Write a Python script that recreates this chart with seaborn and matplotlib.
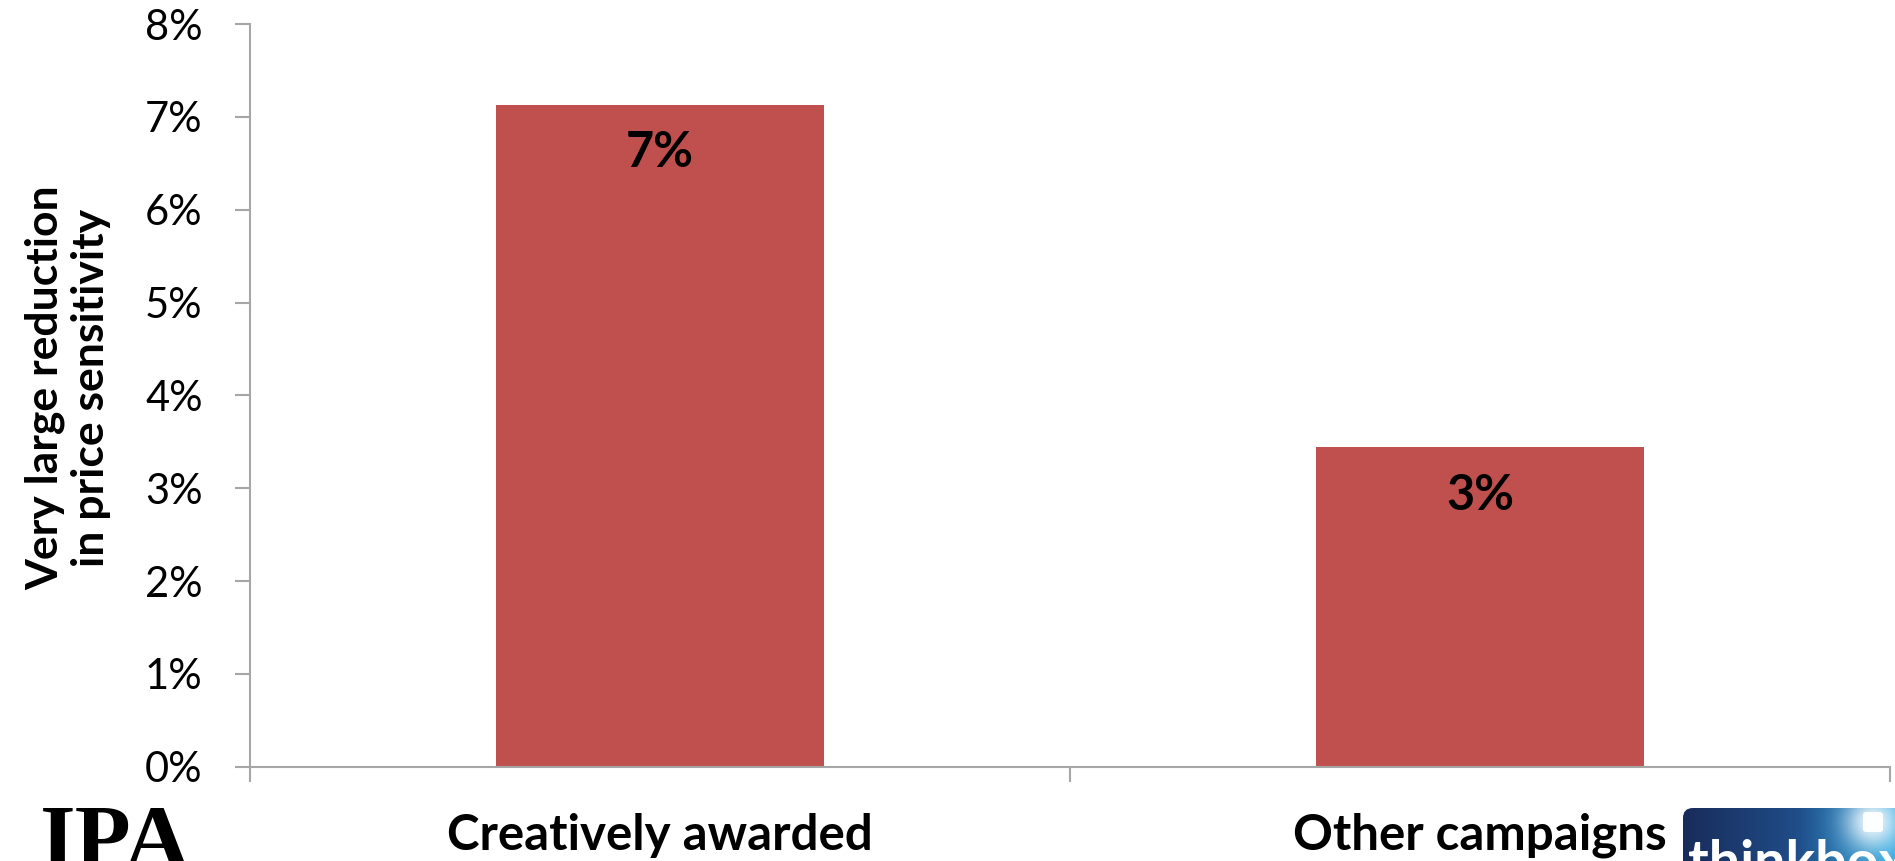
import numpy as np
import pandas as pd
import matplotlib
matplotlib.use("Agg")
import matplotlib.pyplot as plt
from matplotlib.ticker import FixedLocator, FuncFormatter
from matplotlib.patches import FancyBboxPatch
import seaborn as sns

# ---- data ----
categories = ["Creatively awarded", "Other campaigns"]
values = [0.0713, 0.0344]
y_ticks = [0.0, 0.01, 0.02, 0.03, 0.04, 0.05, 0.06, 0.07, 0.08]
y_label = "Very large reduction\nin price sensitivity"

sns.set_theme(style="white")
plt.rcParams['font.family'] = ['Lato', 'DejaVu Sans']

W, H = 1895, 861
fig = plt.figure(figsize=(W / 100, H / 100), dpi=100)
fig.patch.set_facecolor("white")

ax_left, ax_right, ax_top, ax_bottom = 250, 1890, 24, 766.7
ax = fig.add_axes([ax_left / W, 1 - ax_bottom / H, (ax_right - ax_left) / W, (ax_bottom - ax_top) / H])

df = pd.DataFrame({"category": categories, "value": values})
sns.barplot(data=df, x="category", y="value", color="#C0504D", saturation=1,
            width=0.4, linewidth=0, ax=ax)

ax.set_xlim(-0.5, 1.5)
ax.set_ylim(0, 0.08)
ax.set_yticks(y_ticks)
ax.yaxis.set_major_formatter(FuncFormatter(lambda v, p: f"{v:.0%}"))

grey = "#A6A6A6"
for s in ["top", "right"]:
    ax.spines[s].set_visible(False)
for s in ["left", "bottom"]:
    ax.spines[s].set_color(grey)
    ax.spines[s].set_linewidth(1.5)

ax.tick_params(axis="y", which="major", left=True, length=11, width=1.5, color=grey,
               pad=23, labelsize=30, labelcolor="black", direction="out")
ax.xaxis.set_minor_locator(FixedLocator([-0.5, 0.5, 1.5]))
ax.tick_params(axis="x", which="minor", bottom=True, length=11, width=1.5, color=grey,
               direction="out")
ax.tick_params(axis="x", which="major", bottom=True, length=0, pad=33,
               labelsize=35.5, labelcolor="black")
for lab in ax.get_xticklabels():
    lab.set_fontweight("bold")

ax.set_xlabel("")
ax.set_ylabel(y_label, fontsize=32, fontweight="bold", color="black",
              va="center", ha="center", linespacing=1.18)
ax.yaxis.set_label_coords(-0.111, 0.51)

for p in ax.patches:
    h = p.get_height()
    ax.annotate(f"{h:.0%}", (p.get_x() + p.get_width() / 2, h),
                xytext=(0, -45), textcoords="offset points",
                ha="center", va="baseline", fontsize=35, fontweight="bold", color="black")

# ---- IPA logo (text) ----
fig.text(40 / W, -0.008, "IPA", fontsize=66, fontweight="bold",
         family=["Liberation Serif", "DejaVu Serif"], color="black",
         ha="left", va="baseline")

# ---- thinkbox logo ----
lx0, ly0 = 1682, 807
lax = fig.add_axes([lx0 / W, 0, (W - lx0) / W, (H - ly0) / H])
lax.set_xlim(lx0, W)
lax.set_ylim(H, ly0)
lax.axis("off")
xs = np.linspace(lx0, W, 240)
ys = np.linspace(ly0, H + 20, 80)
X, Y = np.meshgrid(xs, ys)
t = np.clip((X - lx0) / (1890 - lx0), 0, 1)
c0 = np.array([0x18, 0x2c, 0x5a]) / 255
c1 = np.array([0x20, 0x4c, 0x88]) / 255
c2 = np.array([0x2c, 0xa6, 0xdf]) / 255
img = np.where(t[..., None] < 0.55,
               c0 + (c1 - c0) * (t[..., None] / 0.55),
               c1 + (c2 - c1) * ((t[..., None] - 0.55) / 0.45))
d = np.sqrt((X - 1873) ** 2 + (Y - 822) ** 2)
glow = np.exp(-(d / 28) ** 2)
img = img + (1 - img) * glow[..., None] * 0.9
img = np.clip(img, 0, 1)
im = lax.imshow(img, extent=[lx0, W, H + 20, ly0], aspect="auto", zorder=1)
clip = FancyBboxPatch((lx0 + 1, ly0 + 1), W - lx0 + 20, 80,
                      boxstyle="round,pad=0,rounding_size=10",
                      transform=lax.transData, facecolor="none", edgecolor="none")
lax.add_patch(clip)
im.set_clip_path(clip)
sq = FancyBboxPatch((1863, 812), 20, 20, boxstyle="round,pad=0,rounding_size=3",
                    facecolor="white", edgecolor="none", alpha=0.95, zorder=3)
lax.add_patch(sq)
lax.text(1688, 880, "thinkbox", fontsize=40, fontweight="bold", color="white",
         ha="left", va="baseline", zorder=4, clip_on=True)

fig.savefig("out.png", dpi=100, facecolor="white")
